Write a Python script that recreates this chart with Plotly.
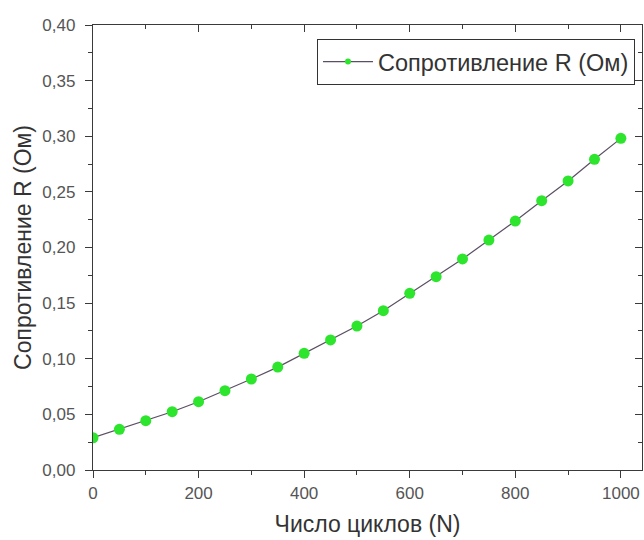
import plotly.graph_objects as go

cycles = [0, 50, 100, 150, 200, 250, 300, 350, 400, 450, 500,
          550, 600, 650, 700, 750, 800, 850, 900, 950, 1000]
resistance = [0.029, 0.0366, 0.0443, 0.0524, 0.0614, 0.0713, 0.0818, 0.0925, 0.1049, 0.1169, 0.1294,
              0.1432, 0.1588, 0.1738, 0.1897, 0.2067, 0.2238, 0.2421, 0.2598, 0.2793, 0.2981]
x_ticks = [0, 200, 400, 600, 800, 1000]
series_name = "Сопротивление R (Ом)"
x_title = "Число циклов (N)"
y_title = "Сопротивление R (Ом)"

FONT = "Liberation Sans, Arial, sans-serif"
AX = "#3a3a3a"
LINE_C = "#5a4f63"
MARK_C = "#2ee52e"

fig = go.Figure()
fig.add_trace(go.Scatter(
    x=cycles, y=resistance, mode="lines+markers", name=series_name,
    line=dict(color=LINE_C, width=1.2),
    marker=dict(color=MARK_C, size=11, line=dict(width=0)),
    showlegend=False,
))
# legend entry (smaller marker as in the reference legend)
fig.add_trace(go.Scatter(
    x=[None], y=[None], mode="lines+markers", name=series_name,
    line=dict(color=LINE_C, width=1.2),
    marker=dict(color=MARK_C, size=6, line=dict(width=0)),
))
# invisible helper trace for mirrored tick axes
fig.add_trace(go.Scatter(x=[cycles[0]], y=[resistance[0]], xaxis="x2", yaxis="y2",
                         mode="markers", marker=dict(opacity=0), showlegend=False, hoverinfo="skip"))

xr = [0, 1040]
yr = [0, 0.40]
common = dict(showgrid=False, zeroline=False, showline=True, linecolor=AX, linewidth=1.3,
              tickcolor=AX, tickwidth=1.2)

fig.update_layout(
    width=644, height=540,
    margin=dict(l=93, r=2, t=25, b=70),
    paper_bgcolor="white", plot_bgcolor="white",
    separators=",.",
    font=dict(family=FONT, color="#444444", size=17),
    showlegend=True,
    legend=dict(x=0.408, y=0.969, xanchor="left", yanchor="top",
                bordercolor="#333333", borderwidth=1, bgcolor="white",
                font=dict(size=23.5, color="#333333"), itemwidth=50,
                tracegroupgap=0),
    xaxis=dict(range=xr, tickvals=x_ticks, ticks="outside", ticklen=7,
               minor=dict(ticks="outside", dtick=100, tick0=0, ticklen=4, tickcolor=AX),
               title=dict(text=x_title, font=dict(size=23, color="#333333"), standoff=14),
               tickfont=dict(size=17, color="#555555"),
               automargin=False, **common),
    yaxis=dict(range=yr, dtick=0.05, tick0=0, tickformat=".2f", ticks="outside", ticklen=7,
               minor=dict(ticks="outside", dtick=0.025, tick0=0, ticklen=4, tickcolor=AX),
               title=dict(text=y_title, font=dict(size=23, color="#333333"), standoff=4),
               tickfont=dict(size=17, color="#555555"),
               ticklabelstandoff=6,
               automargin=False, **common),
    xaxis2=dict(range=xr, overlaying="x", side="top", anchor="y", showticklabels=False,
                tickvals=x_ticks, ticks="inside", ticklen=7,
                minor=dict(ticks="inside", dtick=100, tick0=0, ticklen=4, tickcolor=AX),
                **common),
    yaxis2=dict(range=yr, overlaying="y", side="right", anchor="x", showticklabels=False,
                dtick=0.05, tick0=0, ticks="inside", ticklen=7,
                minor=dict(ticks="inside", dtick=0.025, tick0=0, ticklen=4, tickcolor=AX),
                **common),
)

fig.write_html("out.html", config={"displayModeBar": False},
               post_script="document.body.style.margin='0';document.body.style.overflow='hidden';")
